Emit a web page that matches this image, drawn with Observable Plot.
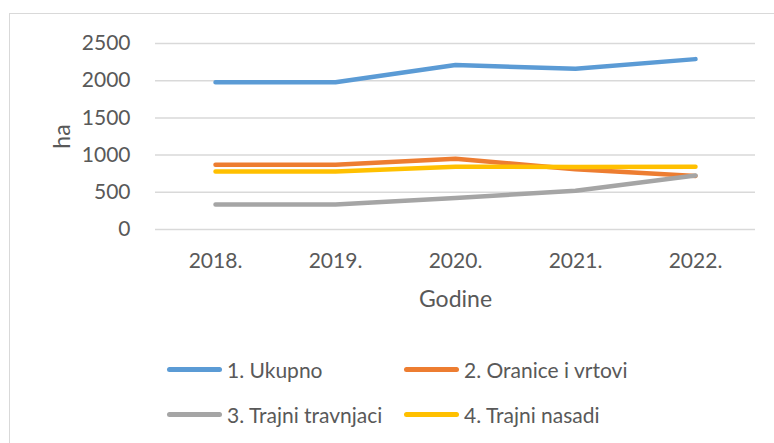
<!DOCTYPE html>
<html>
<head>
<meta charset="utf-8">
<script src="https://cdn.jsdelivr.net/npm/d3@7"></script>
<script src="https://cdn.jsdelivr.net/npm/@observablehq/plot@0.6"></script>
<style>
  html, body { margin: 0; padding: 0; background: #fff; }
  #wrap { position: relative; width: 774px; height: 443px; overflow: hidden; font-family: Lato, "Open Sans", sans-serif; color: #595959; }
  #frame { position: absolute; left: 9px; top: 13px; width: 800px; height: 500px; border: 1.5px solid #d9d9d9; box-sizing: border-box; }
  #chart { position: absolute; left: 0; top: 0; }
  .leg { position: absolute; display: flex; align-items: center; font-size: 21px; line-height: 1; white-space: nowrap; }
  .sw { display: inline-block; width: 55px; height: 5px; border-radius: 3px; margin-right: 5px; }
</style>
</head>
<body>
<div id="wrap">
  <div id="frame"></div>
  <div id="chart"></div>
  <div id="legend"></div>
</div>
<script>
const years = ["2018.", "2019.", "2020.", "2021.", "2022."];
const seriesNames = ["1. Ukupno", "2. Oranice i vrtovi", "3. Trajni travnjaci", "4. Trajni nasadi"];
const colors = ["#5B9BD5", "#ED7D31", "#A5A5A5", "#FFC000"];
const ukupno = [1980, 1980, 2210, 2160, 2290];
const oranice = [870, 870, 950, 810, 720];
const travnjaci = [335, 335, 425, 520, 725];
const nasadi = [780, 780, 845, 840, 845];
const yTicks = [0, 500, 1000, 1500, 2000, 2500];

const seriesValues = [ukupno, oranice, travnjaci, nasadi];
const data = [];
seriesValues.forEach((vals, si) => {
  vals.forEach((v, i) => data.push({ series: seriesNames[si], year: years[i], value: v }));
});
const plot = Plot.plot({
  width: 774,
  height: 443,
  marginLeft: 155,
  marginRight: 19,
  marginTop: 43,
  marginBottom: 214,
  style: { fontFamily: "Lato, 'Open Sans', sans-serif", fontSize: "21px", color: "#595959", background: "transparent", overflow: "visible" },
  x: { type: "point", domain: years, padding: 0.5, label: null },
  y: { domain: [0, 2500], label: null },
  color: { domain: seriesNames, range: colors },
  marks: [
    Plot.ruleY(yTicks, { stroke: "#d9d9d9", strokeWidth: 1.5 }),
    Plot.axisY({ ticks: yTicks, tickFormat: d => String(d), tickSize: 0, tickPadding: 25, label: null, fill: "#595959", fontSize: 21 }),
    Plot.axisX({ tickSize: 0, tickPadding: 24, label: null, fill: "#595959", fontSize: 21 }),
    Plot.line(data, { x: "year", y: "value", z: "series", stroke: "series", strokeWidth: 4.5, strokeLinecap: "round", strokeLinejoin: "round", curve: "linear" }),
    Plot.text(["Godine"], { frameAnchor: "bottom", dy: 70, lineAnchor: "middle", fontSize: 23, fill: "#595959" }),
    Plot.text(["ha"], { frameAnchor: "left", dx: -93, rotate: -90, lineAnchor: "middle", textAnchor: "middle", fontSize: 23, fill: "#595959" })
  ]
});
document.getElementById("chart").appendChild(plot);

const legendPos = [
  { left: 167, top: 369 },
  { left: 404, top: 369 },
  { left: 167, top: 414 },
  { left: 404, top: 414 }
];
const legend = document.getElementById("legend");
seriesNames.forEach((name, i) => {
  const item = document.createElement("div");
  item.className = "leg";
  item.style.left = legendPos[i].left + "px";
  item.style.top = (legendPos[i].top - 11) + "px";
  item.style.height = "22px";
  const sw = document.createElement("span");
  sw.className = "sw";
  sw.style.background = colors[i];
  const tx = document.createElement("span");
  tx.textContent = name;
  item.appendChild(sw);
  item.appendChild(tx);
  legend.appendChild(item);
});
</script>
</body>
</html>
